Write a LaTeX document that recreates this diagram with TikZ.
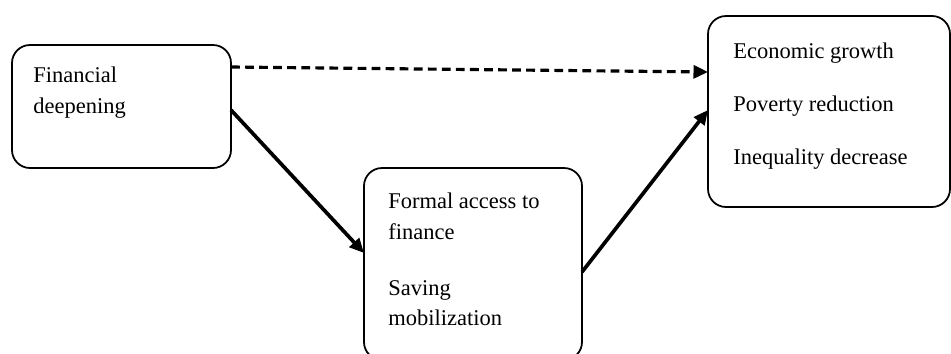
\documentclass[tikz,border=0pt]{standalone}
\usepackage{fontspec}
\setmainfont{Liberation Serif}
\usetikzlibrary{arrows.meta}

\begin{document}
\begin{tikzpicture}
    \tikzstyle{box} = [draw, line width = 1pt, rounded corners = 0.36cm, outer sep = 0pt, inner sep = 0pt];
    \tikzstyle{txt} = [anchor = north west, align = left, inner sep = 0pt, font = \fontsize{12.8}{17.5}\selectfont];
    \tikzstyle{link} = [line width = 2.1pt, -{Triangle[length = 0.29cm, width = 0.26cm]}];
    \useasboundingbox (0,0) rectangle (19.02,-7.06);
    \clip (0,0) rectangle (19.02,-7.06);
    % boxes:
    \node[box, minimum width = 4.38cm, minimum height = 2.46cm] (fin) at (2.43,-2.13){};
    \node[box, minimum width = 4.36cm, minimum height = 3.84cm] (acc) at (9.46,-5.28){};
    \node[box, minimum width = 4.84cm, minimum height = 3.82cm] (out) at (16.58,-2.23){};
    % texts:
    \node[txt] (finT) at (0.66,-1.34){Financial\\deepening};
    \node[txt] (accT) at (7.76,-3.86){Formal access to\\finance\\[14pt]Saving\\mobilization};
    \node[txt] (outT) at (14.66,-0.86){Economic growth\\[12.5pt]Poverty reduction\\[12.5pt]Inequality decrease};
    % arrows:
    \draw[link, dash pattern = on 5pt off 3pt, line width = 1.8pt] ([yshift = -0.44cm]fin.north east) -- ([yshift = -1.12cm]out.north west);
    \draw[link] ([yshift = -1.3cm]fin.north east) -- ([yshift = -1.7cm]acc.north west);
    \draw[link] ([yshift = -2.08cm]acc.north east) -- ([yshift = -1.88cm]out.north west);
\end{tikzpicture}
\end{document}
